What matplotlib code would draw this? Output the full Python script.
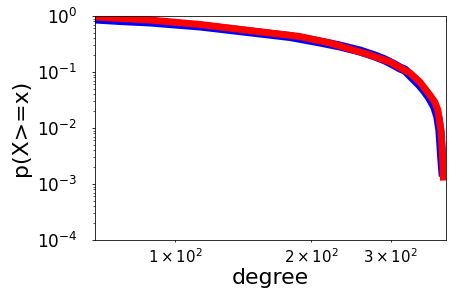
import matplotlib
matplotlib.use("Agg")
import matplotlib.pyplot as plt
from matplotlib.ticker import NullLocator, FixedLocator, FixedFormatter

# empirical CCDF (blue)
emp_degree = [66.5, 75.5, 88.0, 100, 113.6, 132.4, 154.2, 179.7, 209.4, 231.8, 256.6,
              277.0, 291.5, 306.7, 314.6, 322.7, 331.1, 339.6, 348.3, 357.3, 366.5,
              375.9, 381.8, 385.7, 387.8, 389.7, 391.7]
emp_ccdf = [0.884, 0.831, 0.782, 0.720, 0.663, 0.574, 0.497, 0.430, 0.343, 0.291, 0.237,
            0.193, 0.164, 0.133, 0.118, 0.1086, 0.0884, 0.0720, 0.0586, 0.0458, 0.0343,
            0.0237, 0.0157, 0.0092, 0.00497, 0.00268, 0.00164]

# fitted CCDF (red)
fit_degree = [66.5, 88.0, 113.6, 162.3, 189.0, 220.2, 270.1, 299.1, 331.1, 348.3,
              366.5, 375.9, 381.8, 387.8, 390.4, 392.8]
fit_ccdf = [0.960, 0.848, 0.705, 0.497, 0.430, 0.330, 0.201, 0.151, 0.096, 0.0663,
            0.0388, 0.0291, 0.0210, 0.0092, 0.00405, 0.00133]

x_ticks = [100, 200, 300]
x_ticklabels = [r'$1\times10^{2}$', r'$2\times10^{2}$', r'$3\times10^{2}$']

fig = plt.figure(figsize=(457/72, 297/72), dpi=72)
ax = fig.add_axes([95/457, 57/297, 351/457, 224/297])
ax.plot(emp_degree, emp_ccdf, color='blue', lw=9)
ax.plot(fit_degree, fit_ccdf, color='red', lw=7)
ax.set_xscale('log')
ax.set_yscale('log')
ax.set_xlim(66.5, 398)
ax.set_ylim(1e-4, 1)
ax.xaxis.set_major_locator(FixedLocator(x_ticks))
ax.xaxis.set_major_formatter(FixedFormatter(x_ticklabels))
ax.xaxis.set_minor_locator(NullLocator())
ax.tick_params(axis='y', which='major', labelsize=17, pad=14)
ax.tick_params(axis='x', labelsize=15, length=2, pad=5)
ax.set_xlabel('degree', fontsize=22, labelpad=2)
ax.set_ylabel('p(X>=x)', fontsize=22, labelpad=6)
fig.savefig('out.png', dpi=72)
